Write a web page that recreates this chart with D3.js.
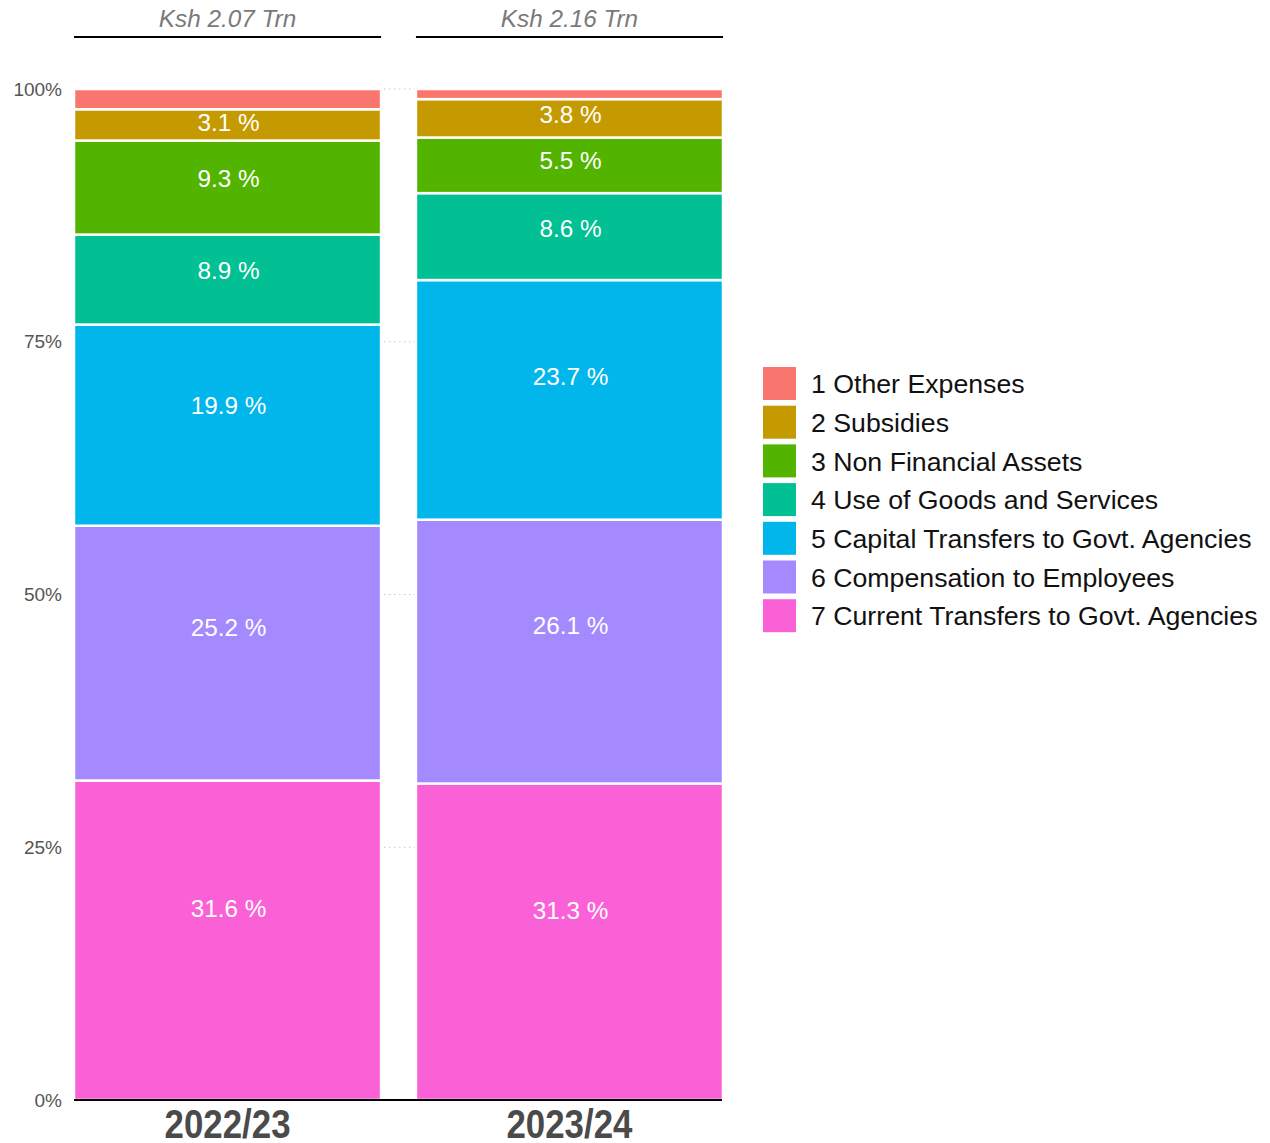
<!DOCTYPE html>
<html>
<head>
<meta charset="utf-8">
<script src="https://cdn.jsdelivr.net/npm/d3@7"></script>
<style>
  body { margin: 0; background: #fff; }
  svg { display: block; font-family: "Liberation Sans", Arial, sans-serif; }
</style>
</head>
<body>
<svg id="chart" width="1270" height="1143"></svg>
<script>
// Data
const years = ["2022/23", "2023/24"];
const totals = ["Ksh 2.07 Trn", "Ksh 2.16 Trn"];
// series listed bottom (7) to top (1)
const categories = [
  "7 Current Transfers to Govt. Agencies",
  "6 Compensation to Employees",
  "5 Capital Transfers to Govt. Agencies",
  "4 Use of Goods and Services",
  "3 Non Financial Assets",
  "2 Subsidies",
  "1 Other Expenses"
];
const values2022 = [31.6, 25.2, 19.9, 8.9, 9.3, 3.1, 2.0];
const values2023 = [31.3, 26.1, 23.7, 8.6, 5.5, 3.8, 1.0];
const labelShown2022 = [true, true, true, true, true, true, false];
const labelShown2023 = [true, true, true, true, true, true, false];
const colors = ["#FB61D7", "#A58AFF", "#00B6EB", "#00C094", "#53B400", "#C49A00", "#F8766D"];
const yTicks = [0, 25, 50, 75, 100];

(function () {
const svg = d3.select("#chart");
const mLeft = 74, mRight = 723, mTop = 89, mBottom = 1100;

const x = d3.scaleBand().domain(years).range([mLeft, mRight]).paddingInner(0.102).paddingOuter(0);
const y = d3.scaleLinear().domain([0, 100]).range([mBottom, mTop]);

const valuesByYear = [values2022, values2023];
const shownByYear = [labelShown2022, labelShown2023];

// gridlines
svg.append("g").selectAll("line").data(yTicks.filter(d => d > 0)).join("line")
  .attr("x1", mLeft).attr("x2", mRight)
  .attr("y1", d => y(d)).attr("y2", d => y(d))
  .attr("stroke", "#c8c8c8").attr("stroke-width", 1)
  .attr("stroke-dasharray", "1.5,3.5");

// y axis labels
const yAxis = d3.axisLeft(y).tickValues(yTicks).tickFormat(d => d + "%").tickSize(0).tickPadding(12);
const gy = svg.append("g").attr("transform", `translate(${mLeft},0)`).call(yAxis);
gy.select(".domain").remove();
gy.selectAll("text").attr("font-size", 19).attr("fill", "#555")
  .attr("font-family", "'Liberation Sans', Arial, sans-serif");

// stacked bars
years.forEach((yr, i) => {
  const vals = valuesByYear[i];
  let cum = 0;
  const segs = vals.map((v, j) => {
    const s = { y0: cum, y1: cum + v, v, j };
    cum += v;
    return s;
  });
  const g = svg.append("g");
  g.selectAll("rect").data(segs).join("rect")
    .attr("x", x(yr))
    .attr("width", x.bandwidth())
    .attr("y", d => y(d.y1))
    .attr("height", d => y(d.y0) - y(d.y1))
    .attr("fill", d => colors[d.j])
    .attr("stroke", "#fff").attr("stroke-width", 2.5);
  g.selectAll("text").data(segs.filter(d => shownByYear[i][d.j])).join("text")
    .attr("x", x(yr) + x.bandwidth() / 2 + 1)
    .attr("y", d => y(d.y1) + 0.4 * (y(d.y0) - y(d.y1)))
    .attr("dy", "0.36em")
    .attr("text-anchor", "middle")
    .attr("fill", "#fff")
    .attr("font-size", 24.3)
    .text(d => d.v.toFixed(1) + " %");
});

// bottom axis
const xAxis = d3.axisBottom(x).tickSize(0).tickPadding(10);
const gx = svg.append("g").attr("transform", `translate(0,${mBottom})`).call(xAxis);
gx.select(".domain").attr("stroke", "#000").attr("stroke-width", 2)
  .attr("d", `M${mLeft},0H${mRight - 1}`);
gx.selectAll("text")
  .attr("font-family", "'Liberation Sans', Arial, sans-serif")
  .attr("font-weight", "bold")
  .attr("font-size", 41)
  .attr("fill", "#4a4a4a")
  .attr("dy", null)
  .attr("y", 38)
  .attr("textLength", 126)
  .attr("lengthAdjust", "spacingAndGlyphs");

// top facet titles
years.forEach((yr, i) => {
  svg.append("text")
    .attr("x", x(yr) + x.bandwidth() / 2)
    .attr("y", 27)
    .attr("text-anchor", "middle")
    .attr("font-style", "italic")
    .attr("font-size", 24.3)
    .attr("fill", "#7a7a7a")
    .text(totals[i]);
  svg.append("line")
    .attr("x1", x(yr)).attr("x2", x(yr) + x.bandwidth())
    .attr("y1", 37).attr("y2", 37)
    .attr("stroke", "#000").attr("stroke-width", 2);
});

// legend (top item first)
const legendItems = categories.map((c, j) => ({ c, col: colors[j] })).reverse();
const lg = svg.append("g").attr("transform", "translate(763,367)");
const rowH = 38.7;
legendItems.forEach((d, k) => {
  lg.append("rect").attr("x", 0).attr("y", k * rowH).attr("width", 33).attr("height", 33)
    .attr("fill", d.col);
  lg.append("text").attr("x", 48).attr("y", k * rowH + 16.5).attr("dy", "0.36em")
    .attr("font-size", 26.7).attr("fill", "#111").text(d.c);
});
})();
</script>
</body>
</html>
